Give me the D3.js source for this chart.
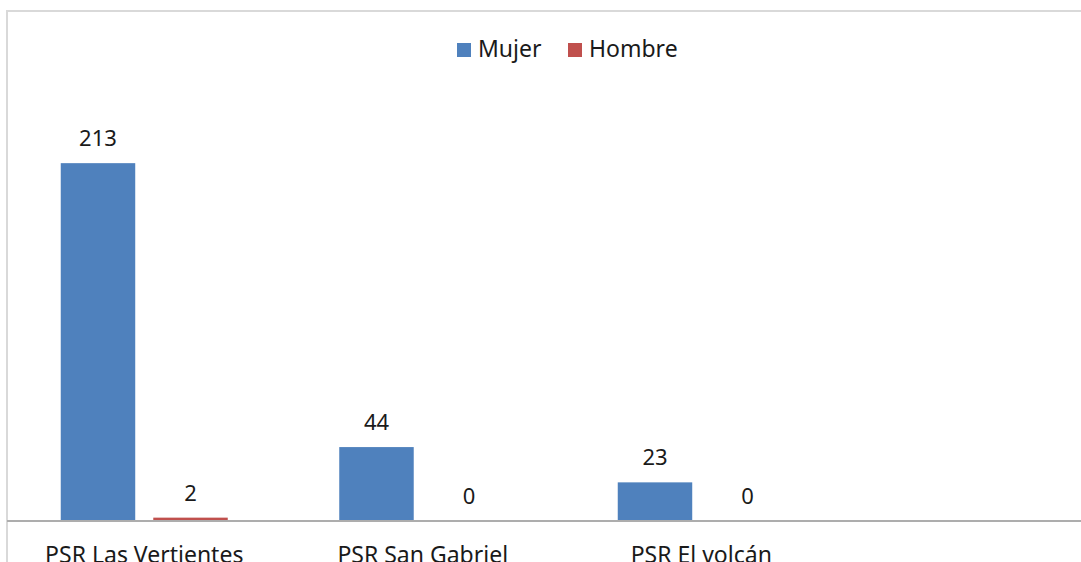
<!DOCTYPE html>
<html>
<head>
<meta charset="utf-8">
<script src="https://cdn.jsdelivr.net/npm/d3@7"></script>
<style>
  html, body { margin: 0; padding: 0; background: #fff; overflow: hidden; }
  svg { display: block; font-family: "Noto Sans", "Open Sans", sans-serif; }
</style>
</head>
<body>
<svg id="chart" width="1081" height="562"></svg>
<script>
// Chart data
const categories = ["PSR Las Vertientes", "PSR San Gabriel", "PSR El volcán"];
const seriesNames = ["Mujer", "Hombre"];
const mujer = [213, 44, 23];
const hombre = [2, 0, 0];
const seriesColors = ["#4F81BD", "#C0504D"];

const rows = categories.map((c, i) => ({ cat: c, values: [mujer[i], hombre[i]] }));

const W = 1081, H = 562;
const svg = d3.select("#chart");

// Chart frame
svg.append("rect")
  .attr("x", 7).attr("y", 11)
  .attr("width", 1200).attr("height", 700)
  .attr("fill", "#fff")
  .attr("stroke", "#D9D9D9").attr("stroke-width", 2);

const baseY = 521;
const plotLeft = 5;
const step = 278.5;

const x0 = d3.scaleBand()
  .domain(categories)
  .range([plotLeft, plotLeft + step * categories.length])
  .padding(0);

const groupW = 167;
const groupOff = (x0.bandwidth() - groupW) / 2;
const x1 = d3.scaleBand()
  .domain(seriesNames)
  .range([groupOff, groupOff + groupW])
  .paddingInner(0.195)
  .paddingOuter(0);

const y = d3.scaleLinear().domain([0, 250]).range([baseY, 101]);

const groups = svg.append("g").selectAll("g")
  .data(rows)
  .join("g")
  .attr("transform", d => `translate(${x0(d.cat)},0)`);

const bars = groups.selectAll("g")
  .data(d => d.values.map((v, j) => ({ name: seriesNames[j], v, j })))
  .join("g");

bars.append("rect")
  .attr("x", d => x1(d.name))
  .attr("y", d => y(d.v))
  .attr("width", x1.bandwidth())
  .attr("height", d => baseY - y(d.v))
  .attr("fill", d => seriesColors[d.j]);

bars.append("text")
  .attr("x", d => x1(d.name) + x1.bandwidth() / 2)
  .attr("y", d => y(d.v) - 17)
  .attr("text-anchor", "middle")
  .attr("font-size", 22)
  .attr("fill", "#1a1a1a")
  .text(d => d.v);

// Category axis
const xAxis = svg.append("g").attr("transform", `translate(0,${baseY})`)
  .call(d3.axisBottom(x0).tickSize(0).tickPadding(0));
xAxis.select(".domain").remove();
xAxis.selectAll("text")
  .attr("font-size", 23)
  .attr("fill", "#1a1a1a")
  .attr("font-family", "Noto Sans, sans-serif")
  .attr("dy", null)
  .attr("y", 42);

svg.append("line")
  .attr("x1", 7).attr("x2", W)
  .attr("y1", baseY).attr("y2", baseY)
  .attr("stroke", "#ADADAD").attr("stroke-width", 2);

// Legend
const legendItems = [
  { name: seriesNames[0], color: seriesColors[0], x: 457 },
  { name: seriesNames[1], color: seriesColors[1], x: 568 }
];
const lg = svg.append("g").selectAll("g").data(legendItems).join("g")
  .attr("transform", d => `translate(${d.x},43)`);
lg.append("rect").attr("width", 14).attr("height", 14).attr("fill", d => d.color);
lg.append("text")
  .attr("x", 21).attr("y", 14)
  .attr("font-size", 23)
  .attr("fill", "#1a1a1a")
  .text(d => d.name);
</script>
</body>
</html>
